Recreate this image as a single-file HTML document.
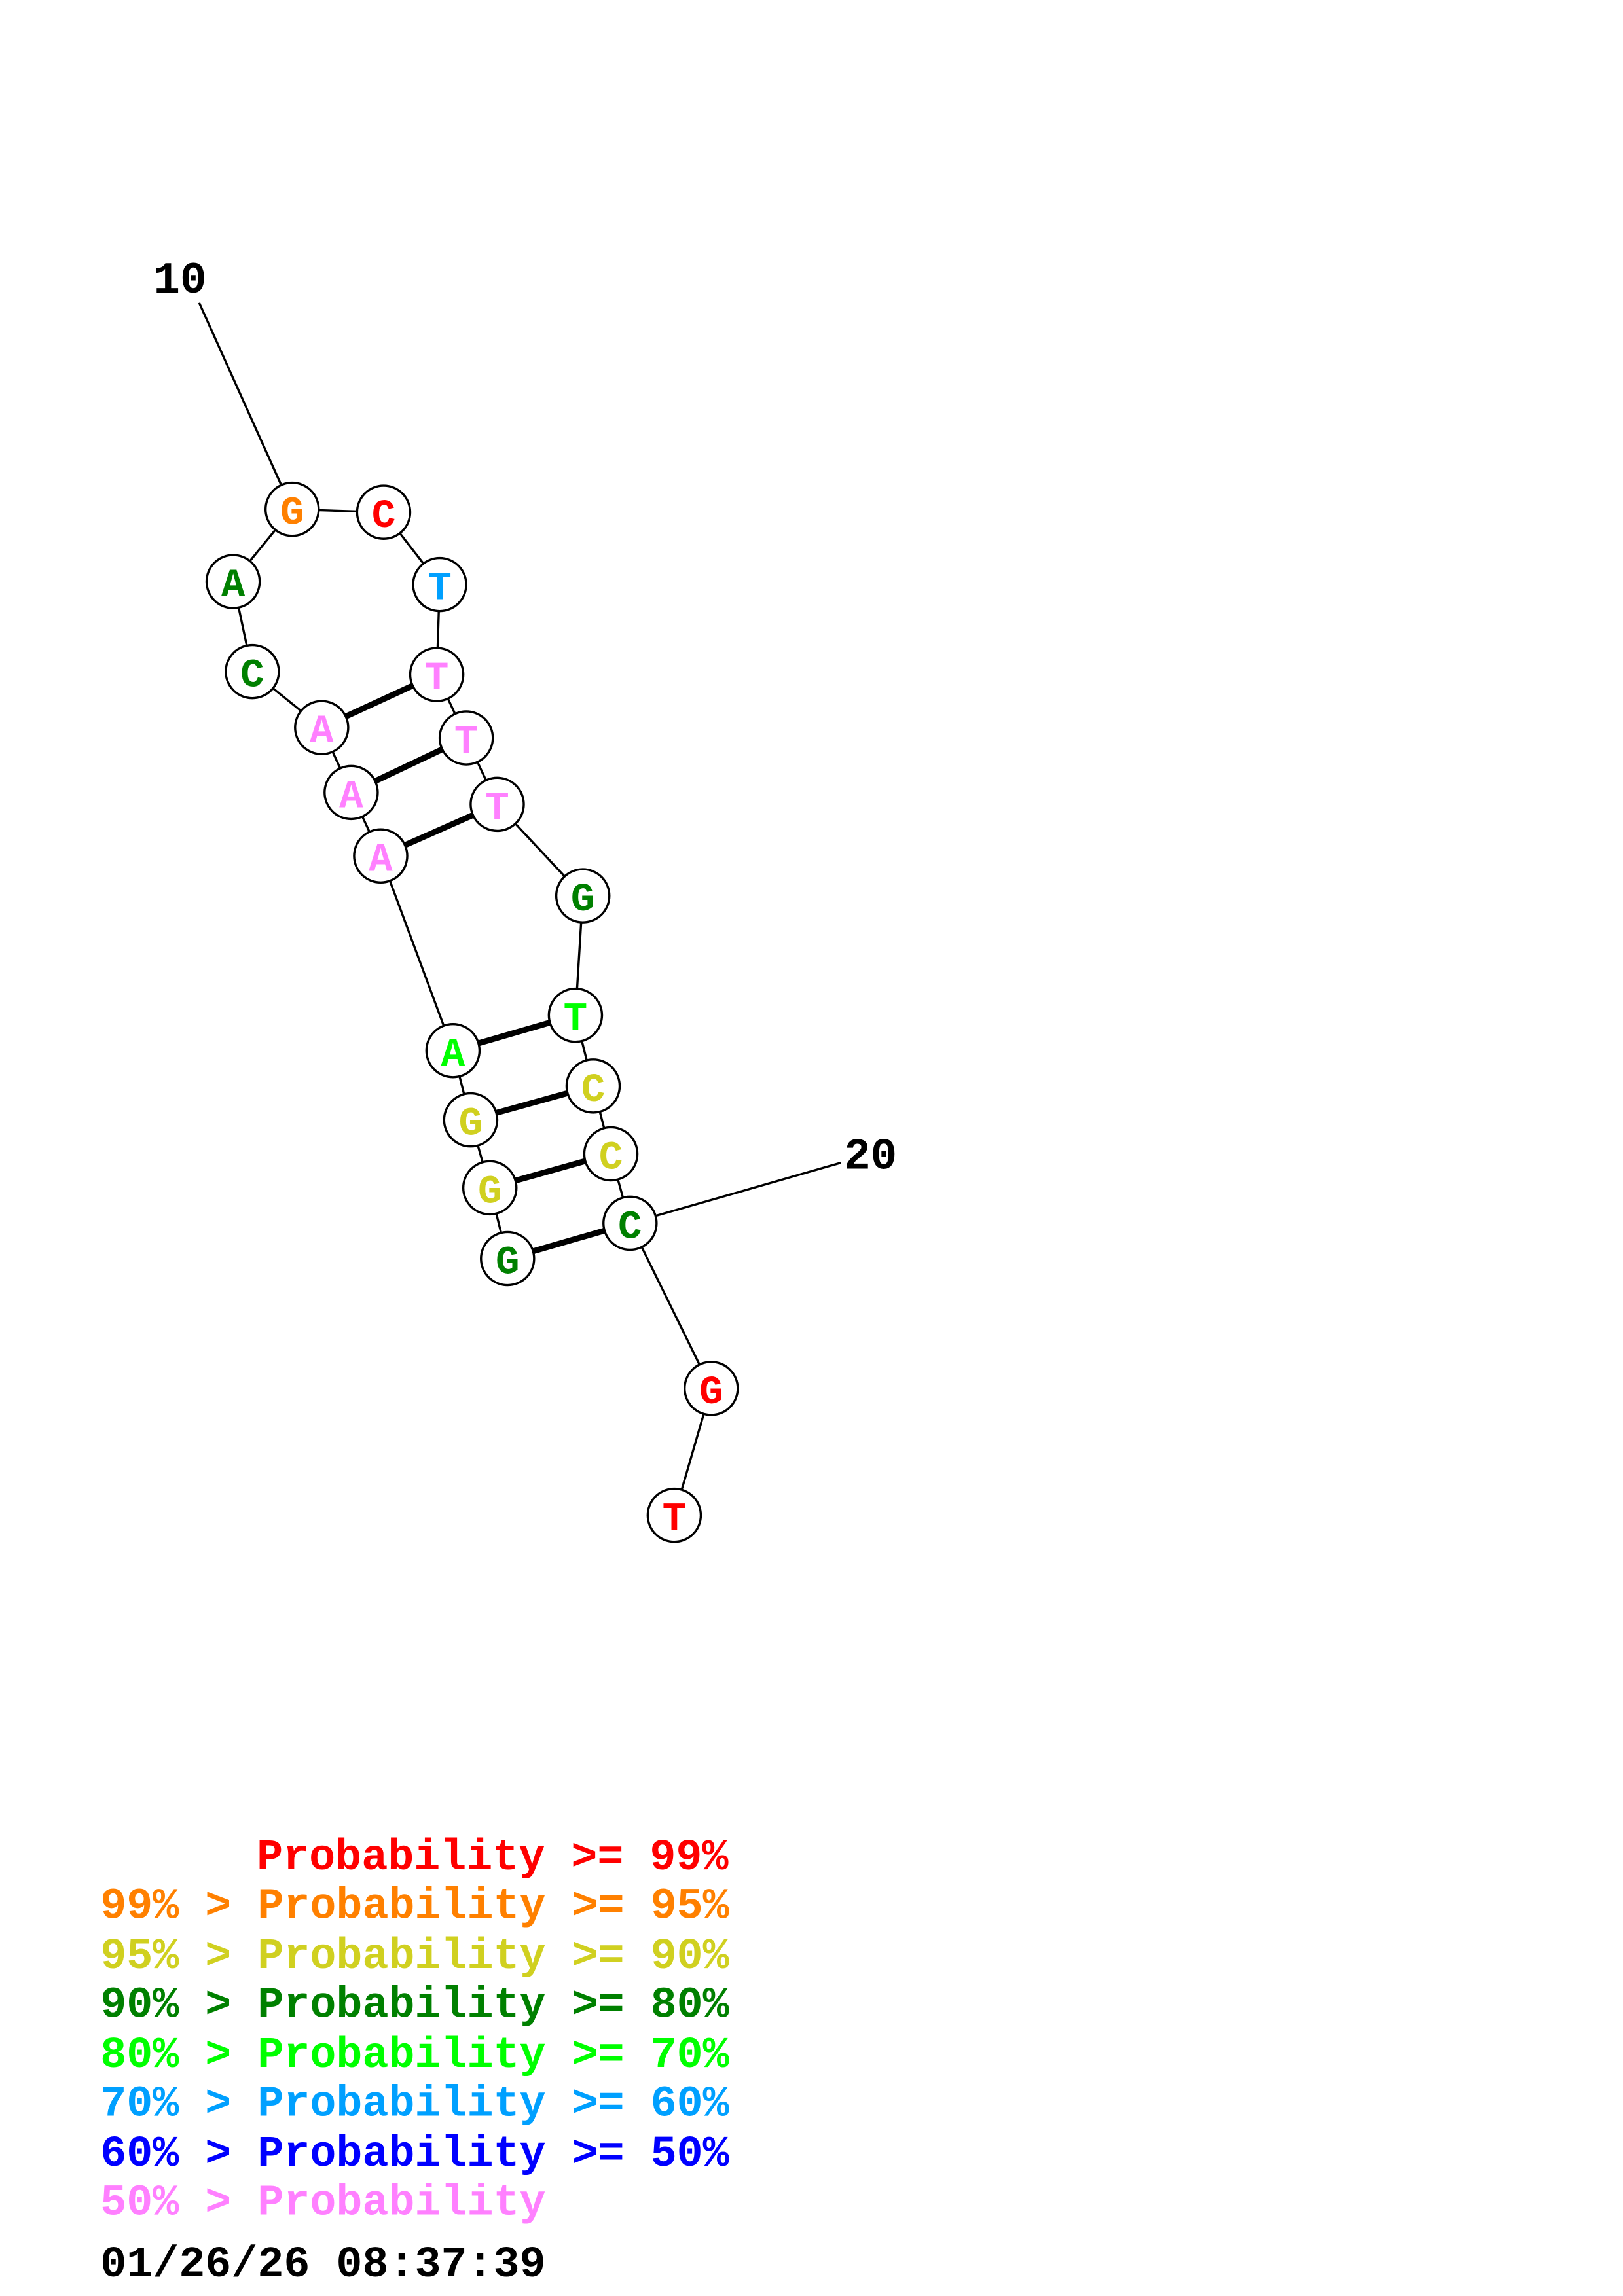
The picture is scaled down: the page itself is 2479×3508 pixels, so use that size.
<!DOCTYPE html>
<html><head><meta charset="utf-8"><style>
html,body{margin:0;padding:0;background:#fff}
svg{display:block}
text{font-family:"Liberation Mono",monospace;font-weight:bold}
</style></head><body>
<svg width="2479" height="3508" viewBox="0 0 1100 1556" xmlns="http://www.w3.org/2000/svg">
<rect width="1100" height="1556" fill="#fff"/>
<g stroke="#000" stroke-width="1.5" fill="none">
<line x1="135" y1="205" x2="198" y2="345"/>
<line x1="427" y1="829" x2="570" y2="788"/>
<polyline points="198,345 158,394 171,455 218,493 238,537 258,580 307,712 319,759 332,805 344,853"/>
<polyline points="198,345 260,347 298,396 296,457 316,500 337,545 395,607 390,688 402,736 414,782 427,829 482,941 457,1027"/>
</g>
<g stroke="#000" stroke-width="4">
<line x1="218" y1="493" x2="296" y2="457"/>
<line x1="238" y1="537" x2="316" y2="500"/>
<line x1="258" y1="580" x2="337" y2="545"/>
<line x1="307" y1="712" x2="390" y2="688"/>
<line x1="319" y1="759" x2="402" y2="736"/>
<line x1="332" y1="805" x2="414" y2="782"/>
<line x1="344" y1="853" x2="427" y2="829"/>
</g>
<g stroke="#000" stroke-width="1.5" fill="#fff">
<circle cx="198" cy="345" r="18"/><circle cx="260" cy="347" r="18"/><circle cx="298" cy="396" r="18"/>
<circle cx="296" cy="457" r="18"/><circle cx="316" cy="500" r="18"/><circle cx="337" cy="545" r="18"/>
<circle cx="395" cy="607" r="18"/><circle cx="390" cy="688" r="18"/><circle cx="402" cy="736" r="18"/>
<circle cx="414" cy="782" r="18"/><circle cx="427" cy="829" r="18"/><circle cx="482" cy="941" r="18"/>
<circle cx="457" cy="1027" r="18"/><circle cx="158" cy="394" r="18"/><circle cx="171" cy="455" r="18"/>
<circle cx="218" cy="493" r="18"/><circle cx="238" cy="537" r="18"/><circle cx="258" cy="580" r="18"/>
<circle cx="307" cy="712" r="18"/><circle cx="319" cy="759" r="18"/><circle cx="332" cy="805" r="18"/>
<circle cx="344" cy="853" r="18"/>
</g>
<g font-size="27" text-anchor="middle">
<text x="198" y="355" fill="#ff8000">G</text>
<text x="260" y="357" fill="#ff0000">C</text>
<text x="298" y="406" fill="#00a0ff">T</text>
<text x="296" y="467" fill="#ff80ff">T</text>
<text x="316" y="510" fill="#ff80ff">T</text>
<text x="337" y="555" fill="#ff80ff">T</text>
<text x="395" y="617" fill="#008000">G</text>
<text x="390" y="698" fill="#00ff00">T</text>
<text x="402" y="746" fill="#d0d020">C</text>
<text x="414" y="792" fill="#d0d020">C</text>
<text x="427" y="839" fill="#008000">C</text>
<text x="482" y="951" fill="#ff0000">G</text>
<text x="457" y="1037" fill="#ff0000">T</text>
<text x="158" y="404" fill="#008000">A</text>
<text x="171" y="465" fill="#008000">C</text>
<text x="218" y="503" fill="#ff80ff">A</text>
<text x="238" y="547" fill="#ff80ff">A</text>
<text x="258" y="590" fill="#ff80ff">A</text>
<text x="307" y="722" fill="#00ff00">A</text>
<text x="319" y="769" fill="#d0d020">G</text>
<text x="332" y="815" fill="#d0d020">G</text>
<text x="344" y="863" fill="#008000">G</text>
</g>
<text x="104" y="198" font-size="30" fill="#000">10</text>
<text x="572" y="792" font-size="30" fill="#000">20</text>
<g font-size="29.6">
<text x="174" y="1267" fill="#ff0000">Probability &gt;= 99%</text>
<text x="68" y="1300" fill="#ff8000">99% &gt; Probability &gt;= 95%</text>
<text x="68" y="1334" fill="#d0d020">95% &gt; Probability &gt;= 90%</text>
<text x="68" y="1367" fill="#008000">90% &gt; Probability &gt;= 80%</text>
<text x="68" y="1401" fill="#00ff00">80% &gt; Probability &gt;= 70%</text>
<text x="68" y="1434" fill="#00a0ff">70% &gt; Probability &gt;= 60%</text>
<text x="68" y="1468" fill="#0000ff">60% &gt; Probability &gt;= 50%</text>
<text x="68" y="1501" fill="#ff80ff">50% &gt; Probability</text>
<text x="68" y="1543" fill="#000">01/26/26 08:37:39</text>
</g>
</svg>
</body></html>
